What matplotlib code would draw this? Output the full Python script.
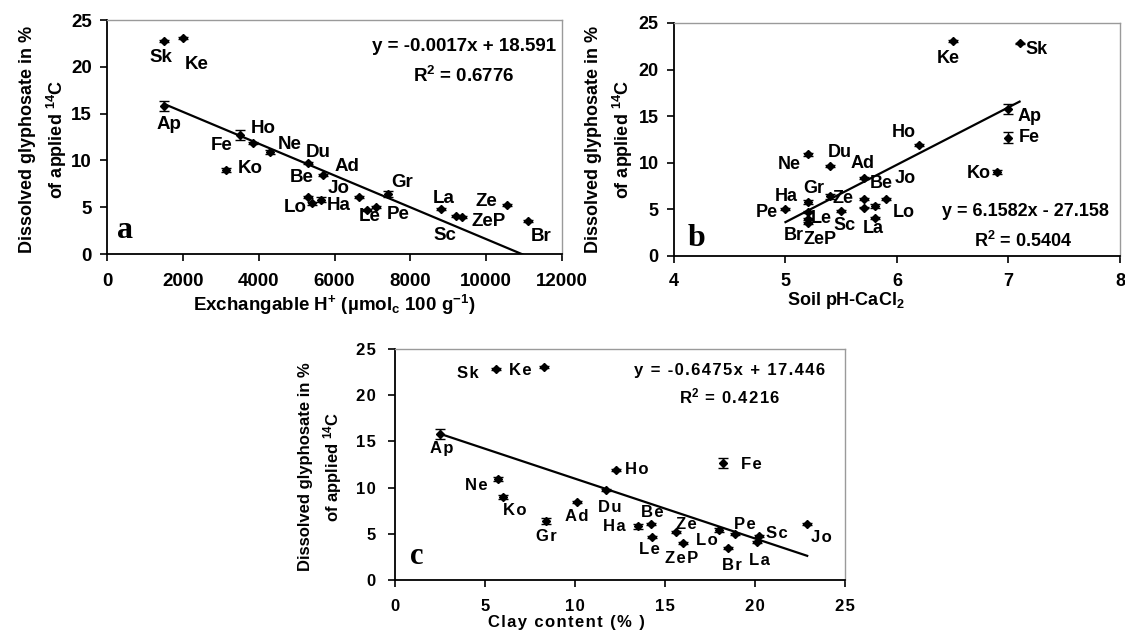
import matplotlib
matplotlib.use("Agg")
import matplotlib.pyplot as plt
import numpy as np

# ── fonts ──────────────────────────────────────────────────────────────────────
plt.rcParams["font.family"] = ["Liberation Sans", "DejaVu Sans"]
plt.rcParams["font.weight"] = "bold"
plt.rcParams["mathtext.fontset"] = "custom"
plt.rcParams["mathtext.rm"] = "Liberation Sans:bold"
plt.rcParams["mathtext.bf"] = "Liberation Sans:bold"
plt.rcParams["mathtext.it"] = "Liberation Sans:bold"
plt.rcParams["mathtext.default"] = "regular"

# ── data: one entry per soil ───────────────────────────────────────────────────
SOILS = ["Sk", "Ke", "Ap", "Fe", "Ho", "Ne", "Ko", "Du", "Ad", "Be", "Lo",
         "Ha", "Jo", "Le", "Pe", "Gr", "La", "Sc", "ZeP", "Ze", "Br"]
DISSOLVED = [22.8, 23.1, 15.8, 12.7, 11.9, 10.9, 9.0, 9.7, 8.4, 6.1, 5.4,
             5.8, 6.1, 4.7, 5.0, 6.4, 4.8, 4.1, 4.0, 5.2, 3.5]
DISSOLVED_ERR = [0.1, 0.1, 0.55, 0.55, 0.1, 0.2, 0.2, 0.1, 0.1, 0.1, 0.2,
                 0.25, 0.1, 0.1, 0.1, 0.3, 0.1, 0.1, 0.1, 0.1, 0.1]
EXCH_H = [1500, 2000, 1500, 3500, 3850, 4300, 3150, 5300, 5700, 5300, 5400,
          5650, 6650, 6850, 7100, 7400, 8800, 9200, 9350, 10550, 11100]
PH = [7.1, 6.5, 7.0, 7.0, 6.2, 5.2, 6.9, 5.4, 5.7, 5.7, 5.8,
      5.2, 5.9, 5.2, 5.0, 5.4, 5.5, 5.8, 5.2, 5.7, 5.2]
CLAY = [5.6, 8.3, 2.5, 18.2, 12.3, 5.7, 6.0, 11.7, 10.1, 14.2, 18.0,
        13.5, 22.9, 14.3, 18.9, 8.4, 20.2, 20.1, 16.0, 15.6, 18.5]

# linear trendlines (slope, intercept, R²)
FIT_H = (-0.0017, 18.591, 0.6776)
FIT_PH = (6.1582, -27.158, 0.5404)
FIT_CLAY = (-0.6475, 17.446, 0.4216)

# ── label placement (data coords of text centre) ──────────────────────────────
LABELS_A = {
    "Sk": (1420, 21.0), "Ke": (2370, 20.2), "Ap": (1640, 13.8),
    "Fe": (3020, 11.6), "Ho": (4120, 13.4), "Ne": (4810, 11.75),
    "Du": (5570, 10.8), "Ko": (3770, 9.15), "Ad": (6320, 9.4),
    "Be": (5130, 8.15), "Jo": (6100, 7.0), "Lo": (4960, 4.95),
    "Ha": (6120, 5.2), "Le": (6940, 4.05), "Pe": (7680, 4.27),
    "Gr": (7770, 7.6), "La": (8870, 5.95), "Sc": (8910, 2.0),
    "Ze": (10000, 5.66), "ZeP": (10060, 3.5), "Br": (11460, 1.85),
}
LABELS_B = {
    "Ke": (6.46, 21.2), "Sk": (7.25, 22.2), "Ap": (7.19, 15.0),
    "Fe": (7.19, 12.7), "Ko": (6.73, 8.9), "Ho": (6.06, 13.2),
    "Ne": (5.03, 9.8), "Du": (5.49, 11.1), "Ad": (5.69, 9.9),
    "Jo": (6.07, 8.26), "Be": (5.86, 7.8), "Gr": (5.25, 7.26),
    "Ha": (5.01, 6.36), "Ze": (5.52, 6.2), "Pe": (4.83, 4.7),
    "Le": (5.32, 3.97), "Sc": (5.53, 3.25), "Lo": (6.06, 4.69),
    "La": (5.79, 2.97), "Br": (5.07, 2.25), "ZeP": (5.31, 1.72),
}
LABELS_C = {
    "Sk": (4.02, 22.4), "Ke": (6.94, 22.7), "Ap": (2.59, 14.25),
    "Ho": (13.43, 12.0), "Fe": (19.8, 12.5), "Ne": (4.54, 10.2),
    "Ko": (6.67, 7.5), "Du": (11.94, 7.87), "Ad": (10.1, 6.85),
    "Gr": (8.43, 4.69), "Be": (14.3, 7.28), "Ha": (12.2, 5.84),
    "Ze": (16.2, 6.03), "Le": (14.13, 3.32), "ZeP": (15.93, 2.35),
    "Lo": (17.35, 4.25), "Pe": (19.44, 6.03), "Br": (18.7, 1.62),
    "Sc": (21.2, 5.05), "La": (20.24, 2.16), "Jo": (23.7, 4.58),
}

HAIR = "\u200a"


def spaced(s):
    # letter-spaced text, as used throughout panel c
    return HAIR.join(s)


def fit_text(fit, fmt=str):
    slope, icept, r2 = fit
    sign = "+" if icept >= 0 else "-"
    eq = fmt(f"y = {slope:g}x {sign} {abs(icept):g}")
    r = "R$^{2}$" + fmt(f" = {r2:g}")
    return eq, r


def draw_panel(ax, xs, fit, labels, xlim, xticks, fs, yfs, fmt=str):
    xs = np.asarray(xs, dtype=float)
    ys = np.asarray(DISSOLVED)
    ax.errorbar(xs, ys, yerr=DISSOLVED_ERR, fmt="D", ms=4.5, color="black",
                ecolor="black", elinewidth=1.0, capsize=3.5, capthick=1.0,
                zorder=3)
    xfit = np.array([xs.min(), xs.max()])
    ax.plot(xfit, fit[0] * xfit + fit[1], color="black", lw=1.6, zorder=2)
    for soil in SOILS:
        lx, ly = labels[soil]
        ax.text(lx, ly, fmt(soil), ha="center", va="center", fontsize=fs,
                fontweight="bold")

    ax.set_xlim(*xlim)
    ax.set_ylim(0, 25)
    ax.set_xticks(xticks, labels=[fmt(f"{t:g}") for t in xticks])
    ax.set_yticks([0, 5, 10, 15, 20, 25],
                  labels=[fmt(str(t)) for t in [0, 5, 10, 15, 20, 25]])
    ax.tick_params(axis="both", direction="out", length=5, width=1.2,
                   labelsize=fs, color="black")
    ax.tick_params(axis="x", pad=9)
    ax.tick_params(axis="y", pad=6)
    for side in ("left", "bottom"):
        ax.spines[side].set_color("black")
        ax.spines[side].set_linewidth(1.3)
    for side in ("top", "right"):
        ax.spines[side].set_color("#9a9a9a")
        ax.spines[side].set_linewidth(1.0)
    ax.set_ylabel("Dissolved glyphosate in %\nof applied $^{14}$C",
                  fontsize=yfs, fontweight="bold", linespacing=1.5,
                  va="center")


fig = plt.figure(figsize=(11.25, 6.33), dpi=100)
ax_a = fig.add_axes([0.0951, 0.5987, 0.4045, 0.3697])
ax_b = fig.add_axes([0.5991, 0.5956, 0.3964, 0.3681])
ax_c = fig.add_axes([0.3511, 0.0837, 0.4000, 0.3649])

# (a) exchangeable H+
draw_panel(ax_a, EXCH_H, FIT_H, LABELS_A, (0, 12000),
           [0, 2000, 4000, 6000, 8000, 10000, 12000], 13.5, 13)
ax_a.set_xlabel(r"Exchangable H$^{+}$ (µmol$_{c}$ 100 g$^{-1}$)",
                fontsize=13.5, fontweight="bold", va="center")
ax_a.xaxis.set_label_coords(0.5, -0.218)
ax_a.yaxis.set_label_coords(-0.138, 0.49)
eq, r = fit_text(FIT_H)
ax_a.text(0.785, 0.885, eq, transform=ax_a.transAxes, ha="center",
          va="center", fontsize=13.5)
ax_a.text(0.785, 0.76, r, transform=ax_a.transAxes, ha="center",
          va="center", fontsize=13.5)
ax_a.text(0.04, 0.1, "a", transform=ax_a.transAxes, ha="center",
          va="center", fontsize=23, family="Liberation Serif",
          fontweight="bold")

# (b) soil pH
draw_panel(ax_b, PH, FIT_PH, LABELS_B, (4, 8), [4, 5, 6, 7, 8], 13, 13)
ax_b.tick_params(axis="x", pad=7)
ax_b.set_xlabel(r"Soil pH-CaCl$_{2}$", fontsize=13, fontweight="bold",
                va="center")
ax_b.xaxis.set_label_coords(0.386, -0.19)
ax_b.yaxis.set_label_coords(-0.143, 0.5)
eq, r = fit_text(FIT_PH)
ax_b.text(0.787, 0.189, eq, transform=ax_b.transAxes, ha="center",
          va="center", fontsize=13)
ax_b.text(0.783, 0.066, r, transform=ax_b.transAxes, ha="center",
          va="center", fontsize=13)
ax_b.text(0.05, 0.075, "b", transform=ax_b.transAxes, ha="center",
          va="center", fontsize=23, family="Liberation Serif",
          fontweight="bold")

# (c) clay content
draw_panel(ax_c, CLAY, FIT_CLAY, LABELS_C, (0, 25), [0, 5, 10, 15, 20, 25],
           12, 12, fmt=spaced)
ax_c.set_xlabel(spaced("Clay content (% )"), fontsize=12, fontweight="bold",
                va="center")
ax_c.xaxis.set_label_coords(0.382, -0.186)
ax_c.yaxis.set_label_coords(-0.164, 0.49)
ax_c.tick_params(axis="y", pad=9)
eq, r = fit_text(FIT_CLAY, fmt=spaced)
ax_c.text(0.744, 0.909, eq, transform=ax_c.transAxes, ha="center",
          va="center", fontsize=12)
ax_c.text(0.744, 0.794, r, transform=ax_c.transAxes, ha="center",
          va="center", fontsize=12)
ax_c.text(0.048, 0.1, "c", transform=ax_c.transAxes, ha="center",
          va="center", fontsize=22, family="Liberation Serif",
          fontweight="bold")

fig.savefig("out.png", dpi=100, facecolor="white")
